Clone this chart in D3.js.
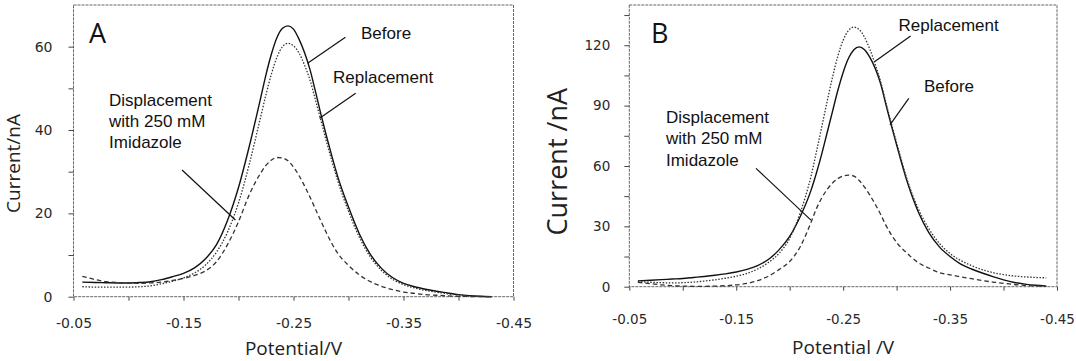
<!DOCTYPE html>
<html><head><meta charset="utf-8">
<script src="https://cdn.jsdelivr.net/npm/d3@7"></script>
<style>
html,body{margin:0;padding:0;background:#fff;}
svg{display:block;}
</style></head>
<body>
<svg id="chart" width="1076" height="361"></svg>
<script>
// ---------- Panel A data ----------
const potentialA = [-0.058,-0.07,-0.08,-0.09,-0.10,-0.11,-0.12,-0.13,-0.14,-0.15,
  -0.16,-0.17,-0.18,-0.19,-0.20,-0.21,-0.22,-0.225,-0.23,-0.235,-0.24,-0.245,-0.25,
  -0.255,-0.26,-0.265,-0.27,-0.275,-0.28,-0.285,-0.29,-0.30,-0.31,-0.32,-0.33,-0.34,
  -0.35,-0.36,-0.37,-0.38,-0.39,-0.40,-0.41,-0.42,-0.43];
const beforeA = [3.5,3.4,3.35,3.3,3.3,3.4,3.6,4.1,4.8,5.6,
  6.9,9.1,12.5,18.3,26.2,36.3,47.5,53.3,58.3,62.2,64.4,65,64.2,
  61.8,58.6,54.5,49.2,43.7,38.5,33.6,29,21.5,15,10.1,6.8,4.6,
  3.2,2.4,1.8,1.3,0.9,0.5,0.25,0.1,0];
const replacementA = [2.4,2.3,2.3,2.3,2.3,2.4,2.6,3.1,3.7,4.5,
  5.7,7.6,10.7,15.5,22.5,32,43,48.5,53.5,57.5,60,60.8,60.2,
  58.5,55.6,52,47.2,42.2,37.2,32.5,28,20.5,14.2,9.5,6.3,4.2,
  2.9,2.1,1.5,1.1,0.7,0.4,0.2,0.05,0];
const displacementA = [4.9,4.1,3.6,3.4,3.3,3.2,3.3,3.5,3.9,4.4,
  5.1,6.2,8.4,12.5,18,24.6,29.6,31.5,32.8,33.4,33.3,32.6,31.1,
  29.1,26.6,23.9,21,18.1,15.3,12.7,10.5,7.5,5.2,3.6,2.5,1.7,
  1.1,0.8,0.5,0.35,0.2,0.1,0.05,0,0];

// ---------- Panel B data ----------
const potentialB = [-0.058,-0.07,-0.08,-0.09,-0.10,-0.11,-0.12,-0.13,-0.14,-0.15,
  -0.16,-0.17,-0.18,-0.19,-0.20,-0.21,-0.22,-0.225,-0.23,-0.235,-0.24,-0.245,-0.25,
  -0.255,-0.26,-0.265,-0.27,-0.275,-0.28,-0.285,-0.29,-0.30,-0.31,-0.32,-0.33,-0.34,
  -0.35,-0.36,-0.37,-0.38,-0.39,-0.40,-0.41,-0.42,-0.43,-0.44];
const beforeB = [2.9,3.2,3.5,3.8,4.1,4.6,5.1,5.7,6.4,7.3,
  8.6,10.5,13.5,18.3,25,35,48,56.5,66,76.5,87,97.5,106.5,
  113.5,117.8,119.2,117.8,114,108.5,101,90.5,70.5,52,37.5,27,19.8,
  15,11.2,8.8,6.8,5.0,3.4,2.1,1.3,0.7,0.3];
const replacementB = [2.5,2.2,2.0,1.9,2.0,2.3,2.8,3.4,4.2,5.2,
  6.6,8.8,12,16.5,24,37,55,67,79.5,92,104,114.5,122.5,
  127.3,129,127.8,124,118,110.5,102,91.5,71.5,53,39,29,21.5,
  16.5,13,10.5,8.5,7,6,5.3,4.9,4.6,4.4];
const displacementB = [2.2,1.5,0.9,0.5,0.3,0.2,0.2,0.3,0.5,0.9,
  1.6,3.0,5.2,8.5,12.5,20,32,38.8,44.1,48.3,51.5,53.7,55,
  55.5,55,52.8,49.5,45.5,41,36,30.5,22,16.5,12,9.3,7,
  5.9,4.9,4.0,3.1,2.3,1.7,1.1,0.7,0.4,0.2];

// ---------- Ticks ----------
const xTicksAll = [-0.05,-0.10,-0.15,-0.20,-0.25,-0.30,-0.35,-0.40,-0.45];
const xTickLabels = ["-0.05","-0.15","-0.25","-0.35","-0.45"];
const yTicksA = [0,10,20,30,40,50,60];
const yTickLabelsA = ["0","20","40","60"];
const yTicksB = [0,15,30,45,60,75,90,105,120,135];
const yTickLabelsB = ["0","30","60","90","120"];

const svg = d3.select("#chart");
svg.append("rect").attr("width",1076).attr("height",361).attr("fill","#fff");

function fmtX(v){ const s = v.toFixed(2); return xTickLabels.includes(s) ? s : ""; }

function drawPanel(cfg){
  const x = d3.scaleLinear().domain([-0.05,-0.45]).range([cfg.x0,cfg.x1]);
  const y = d3.scaleLinear().domain([0,cfg.ymax]).range([cfg.y0,cfg.y1]);
  const g = svg.append("g");

  // frame
  g.append("rect").attr("x",cfg.x0).attr("y",cfg.y1)
    .attr("width",cfg.x1-cfg.x0).attr("height",cfg.y0-cfg.y1)
    .attr("fill","none").attr("stroke","#666").attr("stroke-width",1)
    .attr("stroke-dasharray","3,1");

  // x axis
  const xa = g.append("g").attr("transform",`translate(0,${cfg.y0})`)
    .call(d3.axisBottom(x).tickValues(xTicksAll).tickSize(4)
      .tickPadding(cfg.xPad).tickFormat(fmtX));
  xa.select(".domain").remove();
  xa.selectAll("line").attr("stroke","#444");
  xa.selectAll("text").attr("font-family","DejaVu Sans").attr("font-size",cfg.tickFont)
    .attr("fill","#2a2a2a");

  // y axis
  const ya = g.append("g").attr("transform",`translate(${cfg.x0},0)`)
    .call(d3.axisLeft(y).tickValues(cfg.yTicks).tickSize(5)
      .tickPadding(cfg.yPad).tickFormat(d => cfg.yLabels.includes(String(d)) ? String(d) : ""));
  ya.select(".domain").remove();
  ya.selectAll("line").attr("stroke","#444");
  ya.selectAll("text").attr("font-family","DejaVu Sans").attr("font-size",cfg.tickFont)
    .attr("fill","#2a2a2a");

  // axis titles
  g.append("text").attr("x",(cfg.x0+cfg.x1)/2).attr("y",cfg.xTitleY)
    .attr("text-anchor","middle").attr("font-family","Open Sans")
    .attr("font-size",cfg.xTitleFont).attr("fill","#222").text(cfg.xTitle);
  g.append("text").attr("transform",`translate(${cfg.yTitleX},${cfg.yTitleCY}) rotate(-90)`)
    .attr("text-anchor","middle").attr("font-family","Open Sans")
    .attr("font-size",cfg.yTitleFont).attr("fill","#222").text(cfg.yTitle);

  // panel letter
  g.append("text").attr("x",cfg.letterX).attr("y",43)
    .attr("font-family","Open Sans").attr("font-size",27).attr("fill","#111").text(cfg.letter);

  // curves
  const line = d3.line().x(d=>x(d[0])).y(d=>y(d[1])).curve(d3.curveMonotoneX);
  cfg.series.forEach(s => {
    const pts = cfg.pot.map((p,i)=>[p,s.values[i]]);
    g.append("path").datum(pts).attr("d",line).attr("fill","none")
      .attr("stroke",s.color).attr("stroke-width",s.width)
      .attr("stroke-dasharray",s.dash);
  });

  // annotations
  cfg.notes.forEach(n => {
    g.append("line").attr("x1",x(n.line[0])).attr("y1",y(n.line[1]))
      .attr("x2",x(n.line[2])).attr("y2",y(n.line[3]))
      .attr("stroke","#111").attr("stroke-width",1.2);
    const t = g.append("text").attr("x",x(n.at[0])).attr("y",y(n.at[1]))
      .attr("font-family","Liberation Sans").attr("font-size",17).attr("fill","#111");
    n.text.forEach((s,i)=>{
      t.append("tspan").attr("x",x(n.at[0])).attr("dy", i===0?0:21.3).text(s);
    });
  });
}

const solid = {color:"#111", width:1.4, dash:null};
const dotted = {color:"#333", width:1.3, dash:"1.5,1.6"};
const dashed = {color:"#333", width:1.3, dash:"4.5,3"};

drawPanel({
  x0:73.5, x1:513.5, y0:296.7, y1:5, ymax:70,
  yTicks:yTicksA, yLabels:yTickLabelsA, xPad:17, yPad:16, tickFont:14,
  xTitle:"Potential/V", xTitleY:355, xTitleFont:19,
  yTitle:"Current/nA", yTitleX:20, yTitleCY:163.5, yTitleFont:19,
  letter:"A", letterX:89,
  pot:potentialA,
  series:[
    Object.assign({values:beforeA}, solid),
    Object.assign({values:replacementA}, dotted),
    Object.assign({values:displacementA}, dashed)
  ],
  notes:[
    {text:["Before"], at:[-0.3114,61.8], line:[-0.2972,62.25,-0.2628,56.0]},
    {text:["Replacement"], at:[-0.2859,51.3], line:[-0.3065,48.8,-0.2737,42.8]},
    {text:["Displacement","with 250 mM","Imidazole"], at:[-0.0823,45.8], line:[-0.1487,30.4,-0.1972,18.4]}
  ]
});

drawPanel({
  x0:629.3, x1:1057, y0:286.7, y1:5, ymax:140,
  yTicks:yTicksB, yLabels:yTickLabelsB, xPad:24, yPad:14, tickFont:13.5,
  xTitle:"Potential /V", xTitleY:354, xTitleFont:19,
  yTitle:"Current /nA", yTitleX:567, yTitleCY:161.7, yTitleFont:27,
  letter:"B", letterX:651,
  pot:potentialB,
  series:[
    Object.assign({values:beforeB}, solid),
    Object.assign({values:replacementB}, dotted),
    Object.assign({values:displacementB}, dashed)
  ],
  notes:[
    {text:["Replacement"], at:[-0.3018,127.1], line:[-0.3131,124.6,-0.2793,111.8]},
    {text:["Before"], at:[-0.3256,96.8], line:[-0.3114,93.6,-0.2938,80.4]},
    {text:["Displacement","with 250 mM","Imidazole"], at:[-0.0843,81.4], line:[-0.1685,58.8,-0.2199,33.1]}
  ]
});
</script>
</body></html>
